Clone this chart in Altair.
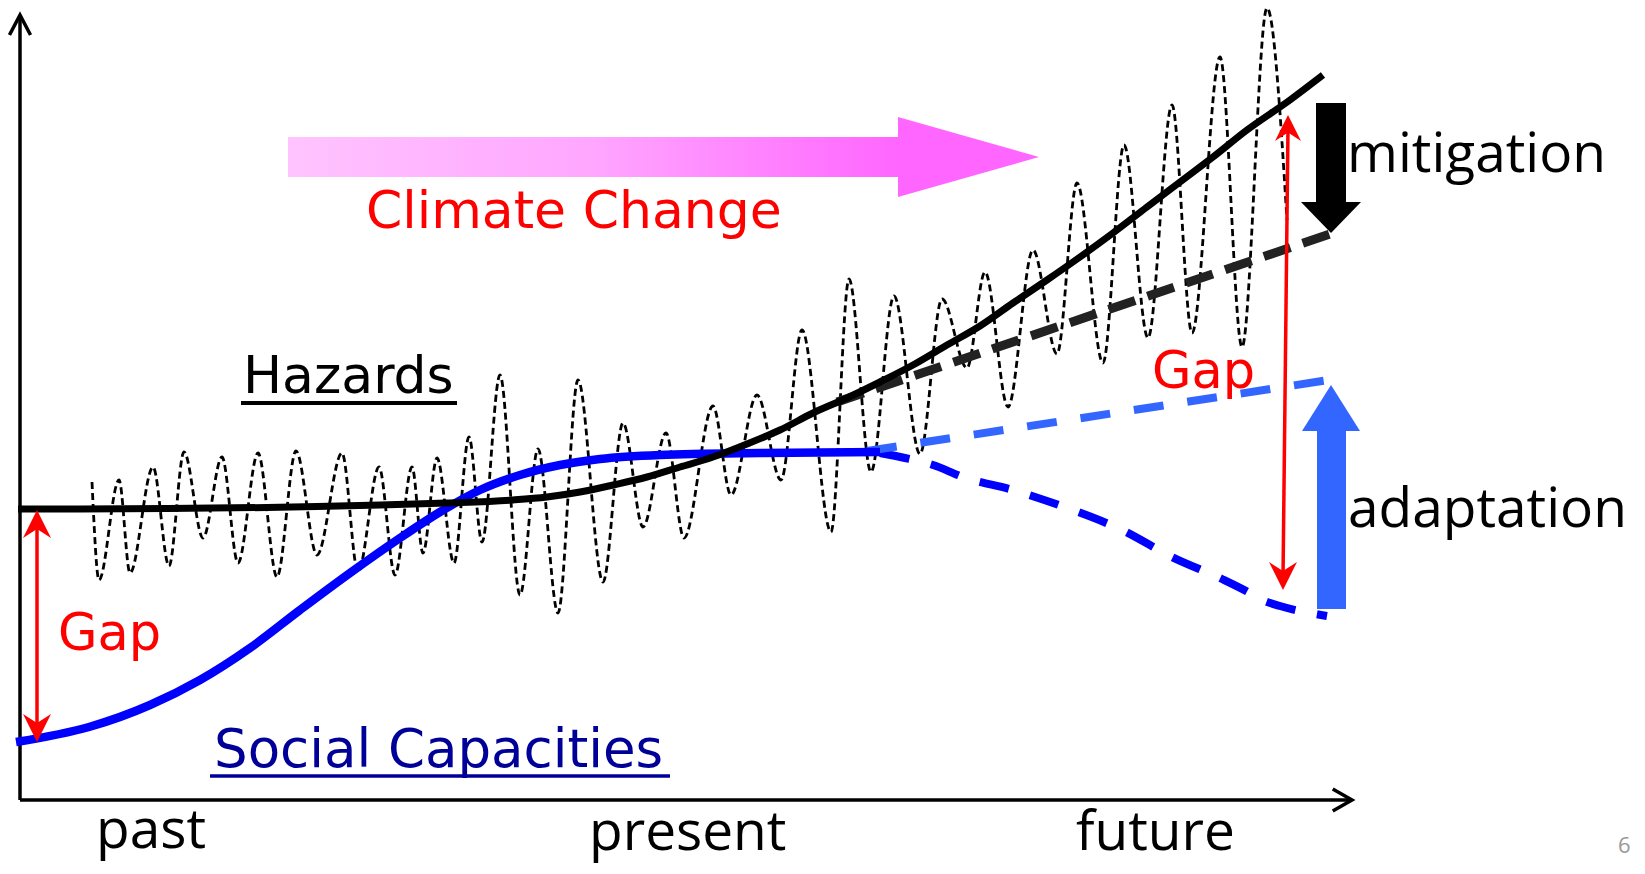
import altair as alt
import pandas as pd

# ---- diagram coordinates: t = time (0 = vertical axis), v = level (0 = time axis)
# oscillating hazard events (peaks / troughs)
osc_t = [72, 79, 99, 110, 133, 149, 164, 183, 202, 218, 238, 257, 276, 297, 322, 338,
         359, 375, 392, 403, 417, 434, 449, 462, 480, 500, 518, 538, 558, 583, 603, 623,
         646, 664, 693, 711, 737, 761, 782, 811, 829, 851, 874, 900, 922, 947, 965, 988,
         1013, 1037, 1057, 1083, 1104, 1128, 1152, 1172, 1200, 1222, 1247, 1267]
osc_v = [318, 220, 320, 227, 333, 234, 348, 262, 343, 237, 347, 223, 349, 245, 347, 228,
         333, 225, 333, 247, 342, 237, 363, 258, 425, 205, 351, 187, 420, 218, 377, 273,
         367, 262, 394, 305, 405, 320, 470, 268, 521, 328, 504, 346, 501, 432, 528, 393,
         550, 446, 617, 437, 655, 462, 695, 467, 743, 453, 792, 580]

# hazards trend
trend_t = [-2, 60, 360, 427, 493, 527, 560, 593, 627, 660, 693, 727, 760, 793, 827, 860,
           893, 927, 960, 993, 1027, 1060, 1093, 1127, 1160, 1193, 1227, 1270, 1303]
trend_v = [291, 291, 295, 297, 300, 303, 308, 315, 323, 333, 343, 356, 370, 387, 402, 418,
           435, 455, 474, 497, 520, 543, 567, 593, 618, 643, 670, 700, 725]

# hazards with mitigation
mitig_t = [817, 1313]
mitig_v = [398, 567]

# social capacities
cap_t = [-4, 69, 130, 180, 230, 280, 330, 380, 420, 460, 500, 540, 580, 640, 740, 860]
cap_v = [58, 73, 95, 120, 152, 190, 227, 262, 288, 310, 325, 335, 341, 345, 347, 348]

# social capacities with adaptation
capup_t = [847, 1322]
capup_v = [349, 422]

# social capacities without adaptation
capdn_t = [860, 885, 913, 943, 993, 1047, 1102, 1152, 1202, 1228, 1242, 1260, 1307]
capdn_v = [347, 342, 335, 323, 310, 292, 270, 243, 221, 208, 200, 194, 184]

# axes
axis_len_t = 1332
axis_len_v = 785

# red gap arrows (t, v top tip, v bottom tip)
gap_left = (17, 290, 58)
gap_right_top = (1268, 685)
gap_right_bot = (1263, 210)

# climate change arrow
cc_shaft = (268, 878, 623, 663)
cc_head_t = [878, 1019]
cc_head_v = [683, 643]
cc_head_v2 = [603, 643]

# mitigation arrow (black, down)
mit_shaft = (1296, 1326, 598, 697)
mit_head_t = [1281, 1311, 1341]
mit_head_v = [598, 598, 598]
mit_head_v2 = [598, 567, 598]

# adaptation arrow (blue, up)
ada_shaft = (1297, 1326, 191, 369)
ada_head_t = [1282, 1311, 1340]
ada_head_v = [369, 369, 369]
ada_head_v2 = [369, 415, 369]

XS = alt.Scale(domain=[-12, 1617], nice=False, zero=False)
YS = alt.Scale(domain=[-66, 792], nice=False, zero=False)


def enc(**kw):
    d = dict(x=alt.X("t:Q", scale=XS, axis=None), y=alt.Y("v:Q", scale=YS, axis=None))
    d.update(kw)
    return d


def line(ts, vs, **mk):
    df = pd.DataFrame({"t": ts, "v": vs, "i": range(len(ts))})
    return alt.Chart(df).mark_line(**mk).encode(**enc(order="i:Q"))


def rule(t1, v1, t2, v2, **mk):
    df = pd.DataFrame({"t": [t1], "v": [v1], "t2": [t2], "v2": [v2]})
    return alt.Chart(df).mark_rule(**mk).encode(**enc(x2="t2:Q", y2="v2:Q"))


def rect(t1, t2, v1, v2, **mk):
    df = pd.DataFrame({"t": [t1], "v": [v1], "t2": [t2], "v2": [v2]})
    return alt.Chart(df).mark_rect(**mk).encode(**enc(x2="t2:Q", y2="v2:Q"))


def area(ts, vs, v2s, **mk):
    df = pd.DataFrame({"t": ts, "v": vs, "v2": v2s})
    return alt.Chart(df).mark_area(**mk).encode(**enc(y2="v2:Q"))


def point(t, v, **mk):
    df = pd.DataFrame({"t": [t], "v": [v]})
    return alt.Chart(df).mark_point(**mk).encode(**enc())


def text(t, v, label, baseline="alphabetic", **mk):
    df = pd.DataFrame({"t": [t], "v": [v], "label": [label]})
    return alt.Chart(df).mark_text(align="left", baseline=baseline, **mk).encode(
        **enc(text="label:N"))


UP = "M0,0L-1,2L0,1.35L1,2Z"
DOWN = "M0,0L-1,-2L0,-1.35L1,-2Z"

layers = []

# climate change arrow
grad = {"gradient": "linear", "x1": 0, "x2": 1, "y1": 0, "y2": 0,
        "stops": [{"offset": 0, "color": "#FFC4FF"}, {"offset": 0.5, "color": "#FFA6FF"},
                  {"offset": 1, "color": "#FF66FF"}]}
layers.append(rect(cc_shaft[0], cc_shaft[1], cc_shaft[2], cc_shaft[3], fill=grad))
layers.append(area(cc_head_t, cc_head_v, cc_head_v2, color="#FF66FF", opacity=1))

# axes
layers.append(rule(0, 0, 0, axis_len_v, color="black", strokeWidth=3.5))
layers.append(rule(0, 0, axis_len_t, 0, color="black", strokeWidth=3.5))
layers.append(point(0, axis_len_v, shape="M-1,1.9L0,0L1,1.9", size=441, filled=False,
                    color="black", strokeWidth=3.5, opacity=1))
layers.append(point(axis_len_t, 0, shape="M-1.75,-1L0,0L-1.75,1", size=484, filled=False,
                    color="black", strokeWidth=3.5, opacity=1))

# oscillating hazards
layers.append(line(osc_t, osc_v, color="black", strokeWidth=2.8, strokeDash=[7, 4],
                   interpolate="monotone"))
# social capacities
layers.append(line(capdn_t, capdn_v, color="#0000FF", strokeWidth=8, strokeDash=[30, 22],
                   interpolate="monotone"))
layers.append(line(capup_t, capup_v, color="#3366FF", strokeWidth=8, strokeDash=[30, 24]))
layers.append(line(cap_t, cap_v, color="#0000FF", strokeWidth=8.5, interpolate="monotone"))
# hazards
layers.append(line(mitig_t, mitig_v, color="#222222", strokeWidth=9, strokeDash=[28, 13]))
layers.append(line(trend_t, trend_v, color="black", strokeWidth=7, interpolate="monotone"))

# big arrows
layers.append(rect(mit_shaft[0], mit_shaft[1], mit_shaft[2], mit_shaft[3], color="black"))
layers.append(area(mit_head_t, mit_head_v, mit_head_v2, color="black", opacity=1))
layers.append(rect(ada_shaft[0], ada_shaft[1], ada_shaft[2], ada_shaft[3], color="#3366FF"))
layers.append(area(ada_head_t, ada_head_v, ada_head_v2, color="#3366FF", opacity=1))

# red gap arrows
layers.append(rule(gap_left[0], gap_left[1] - 12, gap_left[0], gap_left[2] + 12,
                   color="#FF0000", strokeWidth=3.5))
layers.append(point(gap_left[0], gap_left[1], shape=UP, size=784, filled=True,
                    color="#FF0000", opacity=1))
layers.append(point(gap_left[0], gap_left[2], shape=DOWN, size=784, filled=True,
                    color="#FF0000", opacity=1))
layers.append(rule(gap_right_top[0], gap_right_top[1] - 12, gap_right_bot[0], gap_right_bot[1] + 12,
                   color="#FF0000", strokeWidth=3.5))
layers.append(point(gap_right_top[0], gap_right_top[1], shape=UP, size=676, filled=True,
                    color="#FF0000", opacity=1))
layers.append(point(gap_right_bot[0], gap_right_bot[1], shape=DOWN, size=784, filled=True,
                    color="#FF0000", opacity=1))

# texts
F1 = "DejaVu Sans"
F2 = "Open Sans"
layers.append(text(346, 572, "Climate Change", font=F1, fontSize=52, color="#FF0000"))
layers.append(text(223, 407, "Hazards", font=F1, fontSize=52, color="black"))
layers.append(rule(221, 397, 437, 397, color="black", strokeWidth=4))
layers.append(text(194, 33, "Social Capacities", font=F1, fontSize=53, color="#000099"))
layers.append(rule(190, 24, 650, 24, color="#000099", strokeWidth=3.5))
layers.append(text(38, 150, "Gap", font=F1, fontSize=51, color="#FF0000"))
layers.append(text(1132, 412, "Gap", font=F1, fontSize=51, color="#FF0000"))
layers.append(text(1327, 628, "mitigation", font=F2, fontSize=55, color="black"))
layers.append(text(1328, 273, "adaptation", font=F2, fontSize=55, color="black"))
layers.append(text(76, -48, "past", font=F2, fontSize=55, color="black"))
layers.append(text(569, -50, "present", font=F2, fontSize=55, color="black"))
layers.append(text(1056, -50, "future", font=F2, fontSize=55, color="black"))
layers.append(text(1598, -36, "6", baseline="top", font=F2, fontSize=22, color="#999999"))

chart = alt.layer(*layers).properties(
    width=1629, height=858, padding=0,
    autosize=alt.AutoSizeParams(type="none"),
    background="white",
).configure_view(stroke=None)

chart.save("out.html", embed_options={"renderer": "svg", "actions": False})
